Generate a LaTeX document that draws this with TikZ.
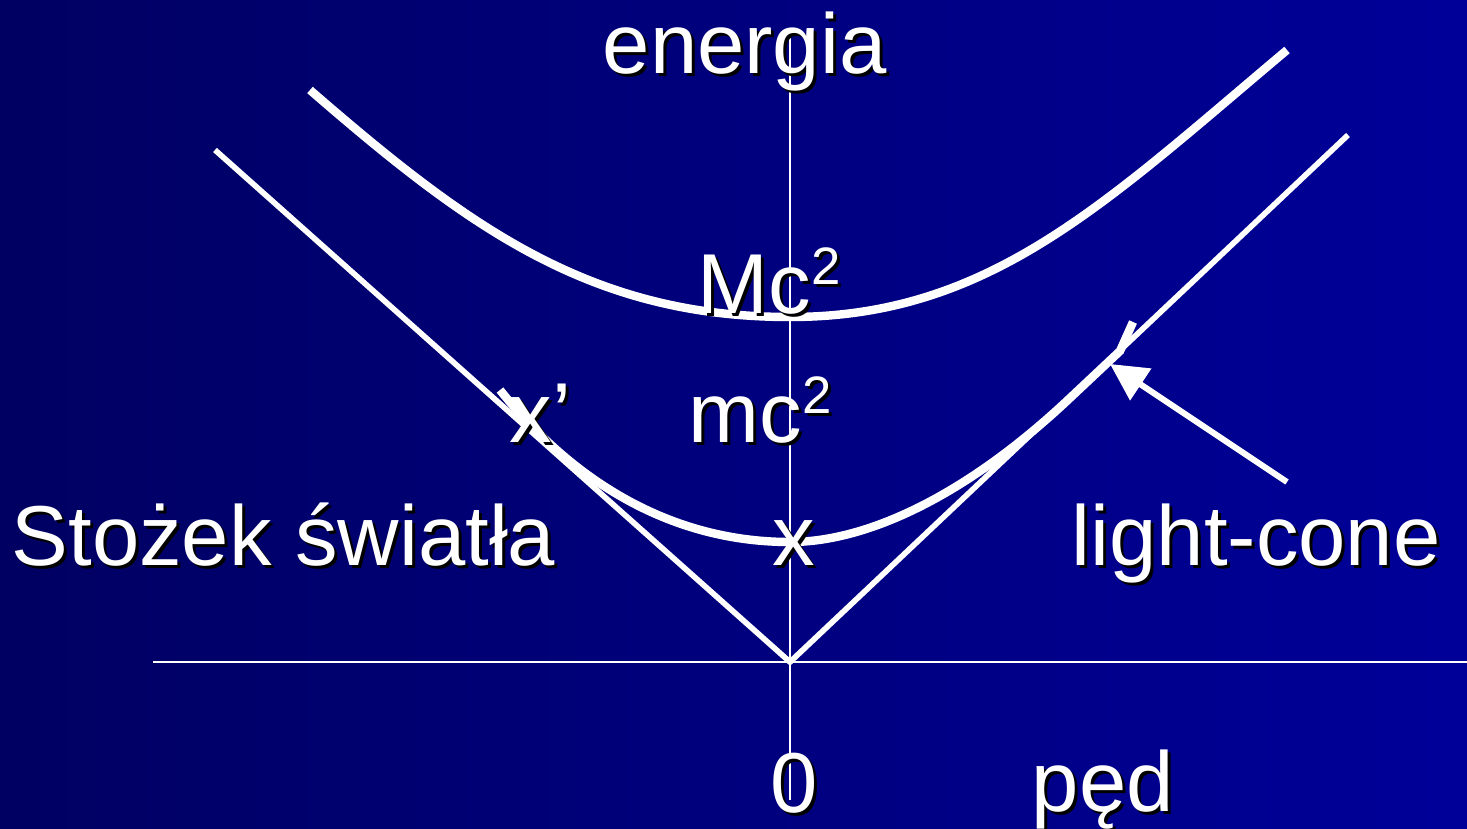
\documentclass[tikz,border=0pt]{standalone}
\usepackage{fontspec}
\setmainfont{Liberation Sans}
\usepackage{xcolor}
\usetikzlibrary{arrows.meta}

\definecolor{bgleft}{RGB}{0,0,98}
\definecolor{bgright}{RGB}{0,0,153}
\definecolor{shade}{RGB}{0,0,0}

% white text with a dark drop shadow
\newcommand{\shadowtxt}[1]{\makebox[0pt][l]{\kern0.03cm\raisebox{-0.03cm}{\color{shade}#1}}#1}
\newcommand{\sqtwo}{\raisebox{0.33em}{\fontsize{15}{15}\selectfont 2}}

\begin{document}
\begin{tikzpicture}
    % styles
    \tikzstyle{txt}=[
      inner sep=0pt,
      anchor=base west,
      text=white,
      font=\fontsize{24.2}{28}\selectfont
    ]
    \tikzstyle{axis}=[draw=white, line width=0.6pt]
    \tikzstyle{cone}=[draw=white, line width=1.6pt]
    \tikzstyle{curve}=[draw=white, line width=2.4pt]

    % background
    \shade[left color=bgleft, right color=bgright] (0,0) rectangle (14.67,-8.28);
    \useasboundingbox (0,0) rectangle (14.67,-8.28);

    % axes
    \coordinate (O) at (7.90,-6.62);
    \coordinate (Etop) at (7.90,-0.28);
    \coordinate (Ebot) at (7.90,-8.00);
    \coordinate (Pleft) at (1.53,-6.62);
    \coordinate (Pright) at (14.67,-6.62);
    \draw[axis] (Etop) -- (Ebot);
    \draw[axis] (Pleft) -- (Pright);

    % light cone
    \coordinate (CL) at (2.15,-1.50);
    \coordinate (CR) at (13.48,-1.35);
    \draw[cone] (CL) -- (O) -- (CR);

    % heavy shell (Mc^2)
    \draw[curve] (3.10,-0.90) .. controls (4.68,-2.27) and (5.90,-3.17) .. (7.90,-3.17)
      .. controls (9.90,-3.17) and (11.05,-2.03) .. (12.87,-0.50);

    % light shell (mc^2)
    \draw[curve] (5.00,-3.90) .. controls (5.80,-4.90) and (6.80,-5.42) .. (7.90,-5.42)
      .. controls (8.70,-5.42) and (9.70,-4.924) .. (10.70,-3.98)
      -- (11.20,-3.51) -- (11.33,-3.22);

    % labels
    \node[txt] (energia) at (6.02,-0.73) {\shadowtxt{energia}};
    \node[txt] (Mcsq) at (6.97,-3.13) {\shadowtxt{Mc\sqtwo}};
    \node[txt] (mcsq) at (6.88,-4.42) {\shadowtxt{mc\sqtwo}};
    \node[txt] (xprime) at (5.09,-4.42) {\shadowtxt{x’}};
    \node[txt] (xrest) at (7.72,-5.65) {\shadowtxt{x}};
    \node[txt] (stozek) at (0.11,-5.65) {\shadowtxt{Stożek światła}};
    \node[txt] (lightcone) at (10.71,-5.65) {\shadowtxt{light-cone}};
    \node[txt] (zero) at (7.70,-8.12) {\shadowtxt{0}};
    \node[txt] (ped) at (10.31,-8.11) {\shadowtxt{pęd}};

    % pointer to the cone
    \coordinate (tail) at (12.87,-4.82);
    \coordinate (tip) at (11.10,-3.64);
    \draw[white, line width=1.7pt, -{Triangle[length=0.37cm, width=0.37cm]}] (tail) -- (tip);
\end{tikzpicture}
\end{document}
